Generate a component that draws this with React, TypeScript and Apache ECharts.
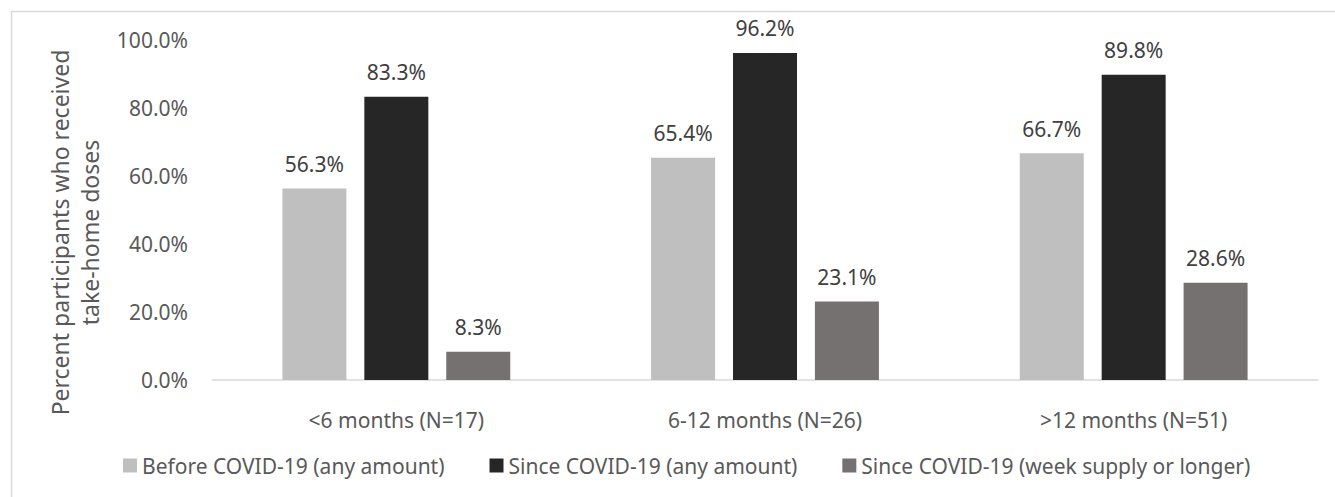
import React, { useEffect, useRef } from "react";
import * as echarts from "echarts";

const categories = ["<6 months (N=17)", "6-12 months (N=26)", ">12 months (N=51)"];
const seriesNames = [
  "Before COVID-19 (any amount)",
  "Since COVID-19 (any amount)",
  "Since COVID-19 (week supply or longer)",
];
const beforeAny = [56.3, 65.4, 66.7];
const sinceAny = [83.3, 96.2, 89.8];
const sinceWeek = [8.3, 23.1, 28.6];
const seriesColors = ["#bfbfbf", "#262626", "#767171"];
const yTicks = { min: 0, max: 100, interval: 20 };
const yTitle = "Percent participants who received\ntake-home doses";

const FONT = "'Noto Sans', 'Open Sans', sans-serif";

export default function App() {
  const ref = useRef<HTMLDivElement>(null);
  useEffect(() => {
    if (!ref.current) return;
    const chart = echarts.init(ref.current, null, { renderer: "svg" });
    const values = [beforeAny, sinceAny, sinceWeek];
    chart.setOption({
      animation: false,
      backgroundColor: "#ffffff",
      textStyle: { fontFamily: FONT },
      grid: { left: 212, right: 17, top: 40, bottom: 117, containLabel: false },
      legend: {
        left: 123,
        top: 455,
        padding: 0,
        itemWidth: 14,
        itemHeight: 14,
        itemGap: 45,
        icon: "rect",
        data: seriesNames,
        textStyle: { fontFamily: FONT, fontSize: 21, color: "#595959" },
      },
      xAxis: {
        type: "category",
        data: categories,
        axisLine: { show: true, lineStyle: { color: "#d9d9d9", width: 1.5 } },
        axisTick: { show: false },
        axisLabel: { margin: 29, fontFamily: FONT, fontSize: 21, color: "#595959" },
      },
      yAxis: {
        type: "value",
        min: yTicks.min,
        max: yTicks.max,
        interval: yTicks.interval,
        axisLine: { show: false },
        axisTick: { show: false },
        splitLine: { show: false },
        axisLabel: {
          margin: 24,
          fontFamily: FONT,
          fontSize: 21,
          color: "#595959",
          formatter: (v: number) => v.toFixed(1) + "%",
        },
      },
      graphic: [
        {
          type: "rect",
          shape: { x: 11.5, y: 11.5, width: 1400, height: 600 },
          style: { fill: "none", stroke: "#d9d9d9", lineWidth: 1.5 },
          silent: true,
          z: -10,
        },
        {
          type: "text",
          x: 75,
          y: 232.5,
          rotation: Math.PI / 2,
          style: {
            text: yTitle,
            fontFamily: FONT,
            fontSize: 23,
            lineHeight: 30,
            fill: "#595959",
            align: "center",
            verticalAlign: "middle",
          },
        },
      ],
      series: seriesNames.map((name, i) => ({
        name,
        type: "bar",
        data: values[i],
        barWidth: 64,
        barGap: "28%",
        itemStyle: { color: seriesColors[i] },
        label: {
          show: true,
          position: "top",
          distance: 14,
          fontFamily: FONT,
          fontSize: 21,
          color: "#404040",
          formatter: (p: any) => Number(p.value).toFixed(1) + "%",
        },
      })),
    });
    return () => chart.dispose();
  }, []);
  return (
    <div
      ref={ref}
      style={{ position: "absolute", left: 0, top: 0, width: 1335, height: 497 }}
    />
  );
}
